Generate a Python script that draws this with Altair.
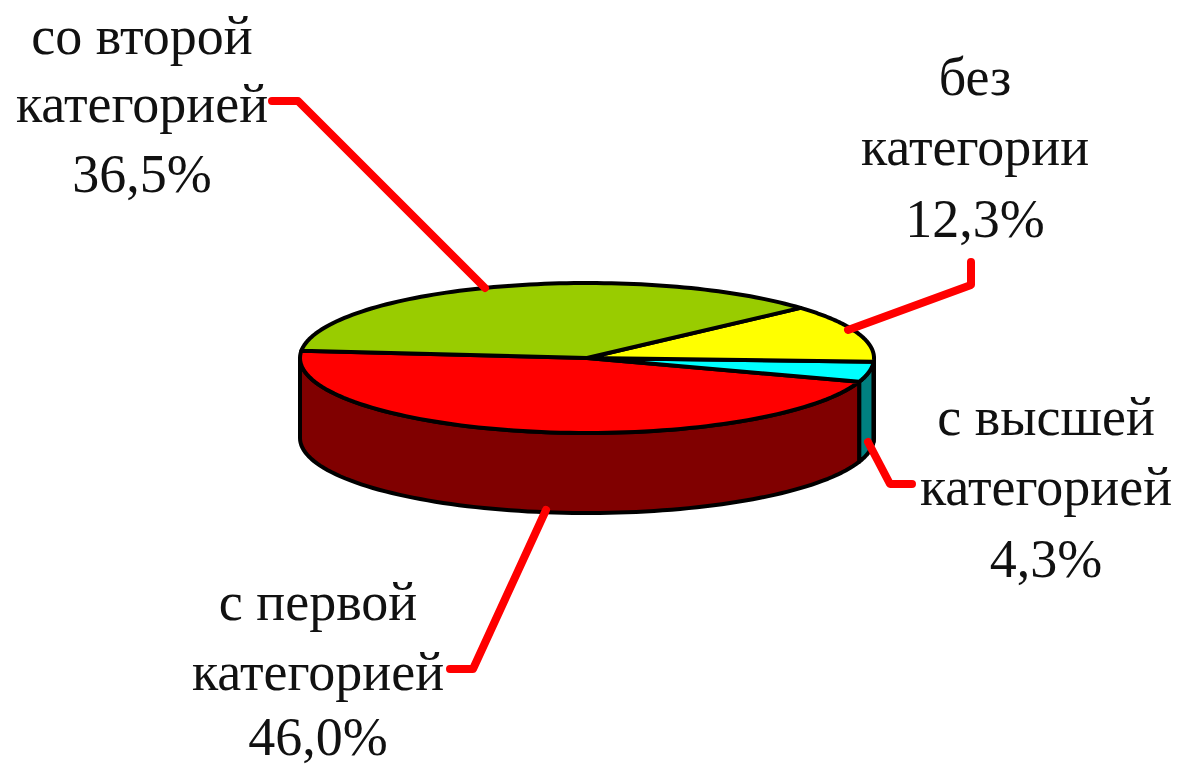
import numpy as np
import pandas as pd
import altair as alt

categories = ["с первой категорией", "с высшей категорией", "без категории", "со второй категорией"]
shares = [46.0, 4.3, 12.3, 36.5]
top_colors = ["#FF0000", "#00FFFF", "#FFFF00", "#99CC00"]
side_colors = ["#800000", "#008080", "#808000", "#4D6600"]

# label lines: text, x centre, y middle
label_lines = ["со второй", "категорией", "36,5%", "без", "категории", "12,3%",
               "с высшей", "категорией", "4,3%", "с первой", "категорией", "46,0%"]
label_x = [142, 142, 142, 975, 975, 975, 1046, 1046, 1046, 318, 318, 318]
label_y = [38, 106, 176, 79, 149, 221, 419, 489, 561, 604, 674, 739]

# leader polylines, one list per label
leader_a = [(272, 101), (298, 101), (485, 288)]
leader_b = [(971, 262), (971, 285), (848, 330)]
leader_c = [(868, 442), (890, 484), (912, 484)]
leader_d = [(546, 510), (473, 669), (450, 669)]

CX, CY, RX, RY, DEPTH = 587, 358, 287, 75, 80
START = 174.5  # angle of the first boundary, going through the front of the pie


def edge(t_deg, drop=0.0):
    t = np.radians(t_deg)
    return CX + RX * np.cos(t), CY - RY * np.sin(t) + drop


rows = []
fractions = np.array(shares) / sum(shares)
bounds = START + np.concatenate([[0], np.cumsum(fractions)]) * 360
# side walls first (only the front half of the rim, angles 180..360)
for i, cat in enumerate(categories):
    a, b = max(bounds[i], 180.0), min(bounds[i + 1], 360.0)
    if a >= b:
        continue
    ts = np.linspace(a, b, 90)
    pts = [edge(t) for t in ts] + [edge(t, DEPTH) for t in ts[::-1]]
    pts.append(pts[0])
    for k, (x, y) in enumerate(pts):
        rows.append(dict(key=f"side{i}", x=x, y=y, k=k, color=side_colors[i]))
for i, cat in enumerate(categories):
    ts = np.linspace(bounds[i], bounds[i + 1], 90)
    pts = [(CX, CY)] + [edge(t) for t in ts] + [(CX, CY)]
    for k, (x, y) in enumerate(pts):
        rows.append(dict(key=f"top{i}", x=x, y=y, k=k, color=top_colors[i]))
df = pd.DataFrame(rows)

xs = alt.Scale(domain=[8, 1172], range=[0, 1164])
ys = alt.Scale(domain=[8, 768], range=[0, 760])
X = alt.X("x:Q", scale=xs, axis=None)
Y = alt.Y("y:Q", scale=ys, axis=None)

layers = []
for key in df["key"].unique():
    part = df[df["key"] == key]
    layers.append(
        alt.Chart(part).mark_line(fill=part["color"].iloc[0], stroke="#000000", strokeWidth=4,
                                  strokeJoin="round", interpolate="linear")
        .encode(x=X, y=Y, order="k:Q")
    )

for name, pts in zip("abcd", [leader_a, leader_b, leader_c, leader_d]):
    ld = pd.DataFrame(pts, columns=["x", "y"]).assign(k=range(len(pts)))
    layers.append(
        alt.Chart(ld).mark_line(color="#FF0000", strokeWidth=8, strokeCap="round", strokeJoin="round")
        .encode(x=X, y=Y, order="k:Q")
    )

tx = pd.DataFrame({"t": label_lines, "x": label_x, "y": label_y})
layers.append(
    alt.Chart(tx).mark_text(font="Liberation Serif", fontSize=54, color="#111111", align="center", baseline="middle")
    .encode(x=X, y=Y, text="t:N")
)

chart = alt.layer(*layers).properties(
    width=1164, height=760, padding=0, autosize=alt.AutoSizeParams(type="none"),
    background="#FFFFFF"
).configure_view(stroke=None)
chart.save("out.html", embed_options={"renderer": "svg", "actions": False})
